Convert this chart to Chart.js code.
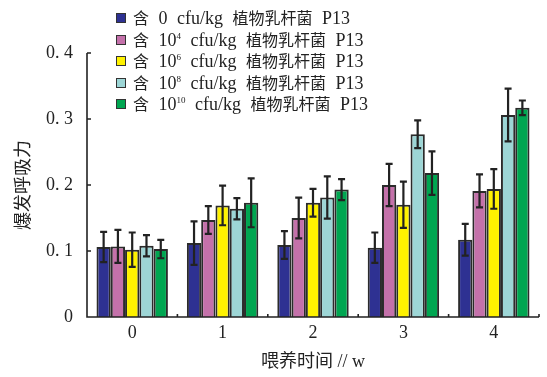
<!DOCTYPE html>
<html>
<head>
<meta charset="utf-8">
<script src="https://cdn.jsdelivr.net/npm/chart.js@4"></script>
<style>
  body { margin: 0; background: #fff; }
  #wrap { position: relative; width: 547px; height: 377px; }
  #legend { position: absolute; left: 116px; top: 7px; font-family: "Liberation Serif", "Noto Sans CJK SC", serif; font-size: 18px; color: #222; }
  #legend .row { height: 21.6px; line-height: 21.6px; white-space: nowrap; word-spacing: 5px; }
  #legend .box { display: inline-block; width: 8px; height: 8px; border: 1.5px solid #333; margin-right: 7px; vertical-align: 1px; }
  #legend .cn { font-family: "Noto Sans CJK SC", sans-serif; font-size: 16px; }
  #legend sup { font-size: 9px; vertical-align: 7px; line-height: 0; }
</style>
</head>
<body>
<div id="wrap">
  <canvas id="grafico" width="547" height="377"></canvas>
  <div id="legend"></div>
</div>
<script>
const semanas = ['0', '1', '2', '3', '4'];
const dosisExp = [null, 4, 6, 8, 10];
const colores = ['#2e3192', '#c471aa', '#fff200', '#9dd6d6', '#00a651'];
const yTicks = [0, 0.1, 0.2, 0.3, 0.4];
const yTickLabels = ['0', '0. 1', '0. 2', '0. 3', '0. 4'];

const dosis0 = [0.106, 0.112, 0.109, 0.105, 0.117];
const dosis4 = [0.107, 0.147, 0.150, 0.200, 0.191];
const dosis6 = [0.102, 0.169, 0.173, 0.170, 0.194];
const dosis8 = [0.108, 0.164, 0.181, 0.277, 0.306];
const dosis10 = [0.103, 0.173, 0.193, 0.218, 0.317];

const err0 = [0.023, 0.033, 0.021, 0.023, 0.024];
const err4 = [0.025, 0.021, 0.031, 0.032, 0.025];
const err6 = [0.026, 0.030, 0.021, 0.035, 0.030];
const err8 = [0.016, 0.016, 0.032, 0.021, 0.040];
const err10 = [0.014, 0.037, 0.016, 0.033, 0.011];

const valores = [dosis0, dosis4, dosis6, dosis8, dosis10];
const errores = [err0, err4, err6, err8, err10];

const etiqueta = (exp) => exp === null ? '含 0 cfu/kg 植物乳杆菌 P13' : `含 10^${exp} cfu/kg 植物乳杆菌 P13`;

const fuente = '"Liberation Serif", "Noto Sans CJK SC", serif';

// error bars + axis lines with inward ticks
const ejes = {
    id: 'ejes',
    afterDatasetsDraw(chart) {
        const ctx = chart.ctx;
        ctx.save();
        ctx.strokeStyle = '#222';
        ctx.lineWidth = 2.2;
        chart.data.datasets.forEach((ds, i) => {
            const meta = chart.getDatasetMeta(i);
            meta.data.forEach((bar, j) => {
                const v = ds.data[j];
                const e = errores[i][j];
                const yTop = chart.scales.y.getPixelForValue(v + e);
                const yBot = chart.scales.y.getPixelForValue(v - e);
                ctx.beginPath();
                ctx.moveTo(bar.x, yTop); ctx.lineTo(bar.x, yBot);
                ctx.moveTo(bar.x - 3.5, yTop); ctx.lineTo(bar.x + 3.5, yTop);
                ctx.moveTo(bar.x - 3.5, yBot); ctx.lineTo(bar.x + 3.5, yBot);
                ctx.stroke();
            });
        });
        const area = chart.chartArea;
        ctx.lineWidth = 1.6;
        ctx.beginPath();
        ctx.moveTo(area.left, area.top); ctx.lineTo(area.left, area.bottom);
        ctx.lineTo(area.right, area.bottom);
        yTicks.forEach((t) => {
            const y = chart.scales.y.getPixelForValue(t);
            ctx.moveTo(area.left, y); ctx.lineTo(area.left + 4, y);
        });
        const xs = chart.scales.x;
        const paso = (area.right - area.left) / semanas.length;
        for (let k = 0; k <= semanas.length; k++) {
            const x = xs.left + paso * k;
            ctx.moveTo(x, area.bottom); ctx.lineTo(x, area.bottom - 3);
        }
        ctx.stroke();
        ctx.restore();
    }
};

const config = {
    type: 'bar',
    data: {
        labels: semanas,
        datasets: valores.map((serie, i) => ({
            label: etiqueta(dosisExp[i]),
            data: serie,
            backgroundColor: colores[i],
            borderColor: '#2b2b2b',
            borderWidth: 2,
            barPercentage: 1.0,
            categoryPercentage: 0.79
        }))
    },
    options: {
        responsive: false,
        animation: false,
        layout: { padding: { top: 53, right: 8, left: 0, bottom: 0 } },
        plugins: { legend: { display: false }, tooltip: { enabled: false } },
        scales: {
            x: {
                grid: { display: false, drawTicks: false },
                border: { display: false },
                ticks: { color: '#222', font: { family: fuente, size: 18 }, padding: 5 },
                title: { display: true, text: '喂养时间 // w', color: '#222', font: { family: fuente, size: 18 }, padding: { top: 0, bottom: 4 } },
                afterFit: (s) => { s.height = 60; }
            },
            y: {
                min: 0,
                max: 0.4,
                afterBuildTicks: (s) => { s.ticks = yTicks.map((v) => ({ value: v })); },
                grid: { display: false, drawTicks: false },
                border: { display: false },
                ticks: {
                    color: '#222',
                    font: { family: fuente, size: 18 },
                    padding: 14,
                    callback: (v) => yTickLabels[yTicks.indexOf(v)]
                },
                title: { display: true, text: '爆发呼吸力', color: '#222', font: { family: fuente, size: 18 }, padding: { top: 13, bottom: 0 } },
                afterFit: (s) => { s.width = 87; }
            }
        }
    },
    plugins: [ejes]
};

const myChart = new Chart(document.querySelector('#grafico'), config);

// legend with superscripts
const legend = document.querySelector('#legend');
legend.innerHTML = dosisExp.map((exp, i) => {
    const dosis = exp === null ? '0' : `10<sup>${exp}</sup>`;
    return `<div class="row"><span class="box" style="background:${colores[i]}"></span><span class="cn">含</span> ${dosis} cfu/kg <span class="cn">植物乳杆菌</span> P13</div>`;
}).join('');
</script>
</body>
</html>
